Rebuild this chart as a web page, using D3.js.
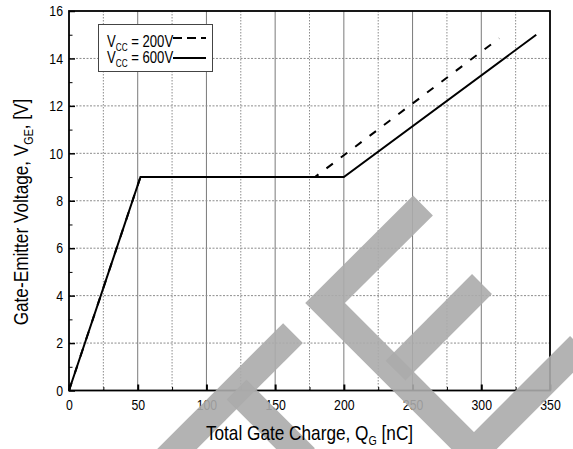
<!DOCTYPE html>
<html>
<head>
<meta charset="utf-8">
<script src="https://cdn.jsdelivr.net/npm/d3@7"></script>
<style>
  body { margin: 0; background: #fff; }
  text { font-family: "Liberation Sans", Arial, sans-serif; fill: #000; }
</style>
</head>
<body>
<div class="chart"></div>
<script>
// gate charge curves
const charge200 = [0, 52, 179, 313];
const volts200 = [0, 9, 9, 14.85];
const charge600 = [0, 52, 200, 340];
const volts600 = [0, 9, 9, 15];
const seriesNames = ["200V", "600V"];

const xTickValues = [0, 50, 100, 150, 200, 250, 300, 350];
const xMinorValues = [25, 75, 125, 175, 225, 275, 325];
const yTickValues = [0, 2, 4, 6, 8, 10, 12, 14, 16];
const yMinorValues = [1, 3, 5, 7, 9, 11, 13, 15];

// grey watermark strokes behind the plot, in chart units (nC, V)
const watermarkStrokes = [
  [[69.9, -2.97], [163.0, 2.42]],
  [[121.9, 0.04], [171.7, -2.85]],
  [[257.6, 7.8], [186.3, 3.69], [294.7, -2.59], [371.8, 1.88]],
  [[300.5, 4.49], [237.6, 0.84]],
];

const NARROW = 0.82; // the original uses a narrow sans face

const W = 573, H = 449;
const margin = { top: 11, right: 23, bottom: 58.5, left: 69 };
const width = W - margin.left - margin.right;
const height = H - margin.top - margin.bottom;

const svg = d3.select(".chart").append("svg")
  .attr("width", W).attr("height", H)
  .style("display", "block");

const g = svg.append("g")
  .attr("transform", `translate(${margin.left},${margin.top})`);

const x = d3.scaleLinear().domain([0, 350]).range([0, width]);
const y = d3.scaleLinear().domain([0, 16]).range([height, 0]);

// grid
g.append("g").selectAll("line")
  .data(xTickValues.filter(d => d > 0 && d < 350))
  .enter().append("line")
  .attr("x1", d => x(d)).attr("x2", d => x(d))
  .attr("y1", 0).attr("y2", height)
  .attr("stroke", "#7a7a7a").attr("stroke-width", 1);

g.append("g").selectAll("line")
  .data(xMinorValues)
  .enter().append("line")
  .attr("x1", d => x(d)).attr("x2", d => x(d))
  .attr("y1", 0).attr("y2", height)
  .attr("stroke", "#8c8c8c").attr("stroke-width", 1)
  .attr("stroke-dasharray", "1.5,1.5");

g.append("g").selectAll("line")
  .data(yTickValues.filter(d => d > 0 && d < 16))
  .enter().append("line")
  .attr("x1", 0).attr("x2", width)
  .attr("y1", d => y(d)).attr("y2", d => y(d))
  .attr("stroke", "#8c8c8c").attr("stroke-width", 1)
  .attr("stroke-dasharray", "2,1.5");

// watermark
const wmLine = d3.line().x(d => x(d[0])).y(d => y(d[1]));
svg.append("g")
  .attr("transform", `translate(${margin.left},${margin.top})`)
  .selectAll("path")
  .data(watermarkStrokes)
  .enter().append("path")
  .attr("d", wmLine)
  .attr("fill", "none")
  .attr("stroke", "#ababab")
  .attr("stroke-opacity", 0.9)
  .attr("stroke-width", 28)
  .attr("stroke-linejoin", "miter")
  .attr("stroke-miterlimit", 4);

// axes, ticks pointing inward
const xAxis = g.append("g").attr("transform", `translate(0,${height})`)
  .call(d3.axisBottom(x).tickValues(xTickValues)
    .tickSizeInner(-6).tickSizeOuter(0).tickPadding(9));
xAxis.select(".domain").remove();
xAxis.selectAll("line").attr("stroke-width", 2);
xAxis.selectAll("text")
  .attr("font-size", 15)
  .attr("font-family", null)
  .attr("transform", `scale(${NARROW},1)`);

const xMinor = g.append("g").attr("transform", `translate(0,${height})`)
  .call(d3.axisBottom(x).tickValues(xMinorValues)
    .tickSizeInner(-3.5).tickSizeOuter(0).tickFormat(""));
xMinor.select(".domain").remove();

const yAxis = g.append("g")
  .call(d3.axisLeft(y).tickValues(yTickValues)
    .tickSizeInner(-6).tickSizeOuter(0).tickPadding(6));
yAxis.select(".domain").remove();
yAxis.selectAll("line").attr("stroke-width", 1.5);
yAxis.selectAll("text")
  .attr("font-size", 15)
  .attr("font-family", null)
  .attr("x", -6 / NARROW)
  .attr("transform", `scale(${NARROW},1)`);

const yMinor = g.append("g")
  .call(d3.axisLeft(y).tickValues(yMinorValues)
    .tickSizeInner(-3.5).tickSizeOuter(0).tickFormat(""));
yMinor.select(".domain").remove();

// frame
g.append("rect")
  .attr("x", 0).attr("y", 0)
  .attr("width", width).attr("height", height)
  .attr("fill", "none").attr("stroke", "#000").attr("stroke-width", 1.8);

// curves
const line = d3.line().x(d => x(d[0])).y(d => y(d[1]));
const pts200 = charge200.map((q, i) => [q, volts200[i]]);
const pts600 = charge600.map((q, i) => [q, volts600[i]]);

g.append("path").datum(pts200)
  .attr("d", line)
  .attr("fill", "none").attr("stroke", "#000").attr("stroke-width", 2)
  .attr("stroke-dasharray", "8,10");

g.append("path").datum(pts600)
  .attr("d", line)
  .attr("fill", "none").attr("stroke", "#000").attr("stroke-width", 2);

// legend
const legend = svg.append("g");
legend.append("rect")
  .attr("x", 98.5).attr("y", 24.5).attr("width", 114).attr("height", 47)
  .attr("fill", "#fff").attr("stroke", "#444").attr("stroke-width", 1);

const legendRows = [
  { name: seriesNames[0], dash: "9,5", textY: 46.5, lineY: 38 },
  { name: seriesNames[1], dash: null, textY: 63, lineY: 58 },
];
legendRows.forEach(r => {
  const t = legend.append("g")
    .attr("transform", `translate(107,${r.textY}) scale(${NARROW},1)`)
    .append("text").attr("font-size", 16);
  t.append("tspan").text("V");
  t.append("tspan").attr("font-size", 10).attr("dy", 4).text("CC");
  t.append("tspan").attr("dy", -4).text(" = " + r.name);
  legend.append("line")
    .attr("x1", 173).attr("x2", 206)
    .attr("y1", r.lineY).attr("y2", r.lineY)
    .attr("stroke", "#000").attr("stroke-width", 2)
    .attr("stroke-dasharray", r.dash);
});

// axis titles
const xt = svg.append("g")
  .attr("transform", `translate(${margin.left + width / 2},440) scale(${NARROW},1)`)
  .append("text").attr("text-anchor", "middle").attr("font-size", 21);
xt.append("tspan").text("Total Gate Charge, Q");
xt.append("tspan").attr("font-size", 13).attr("dy", 5).text("G");
xt.append("tspan").attr("dy", -5).text(" [nC]");

const yt = svg.append("g")
  .attr("transform", `translate(28,212) rotate(-90) scale(${NARROW},1)`)
  .append("text").attr("text-anchor", "middle").attr("font-size", 21);
yt.append("tspan").text("Gate-Emitter Voltage, V");
yt.append("tspan").attr("font-size", 13).attr("dy", 5).text("GE");
yt.append("tspan").attr("dy", -5).text(",  [V]");
</script>
</body>
</html>
